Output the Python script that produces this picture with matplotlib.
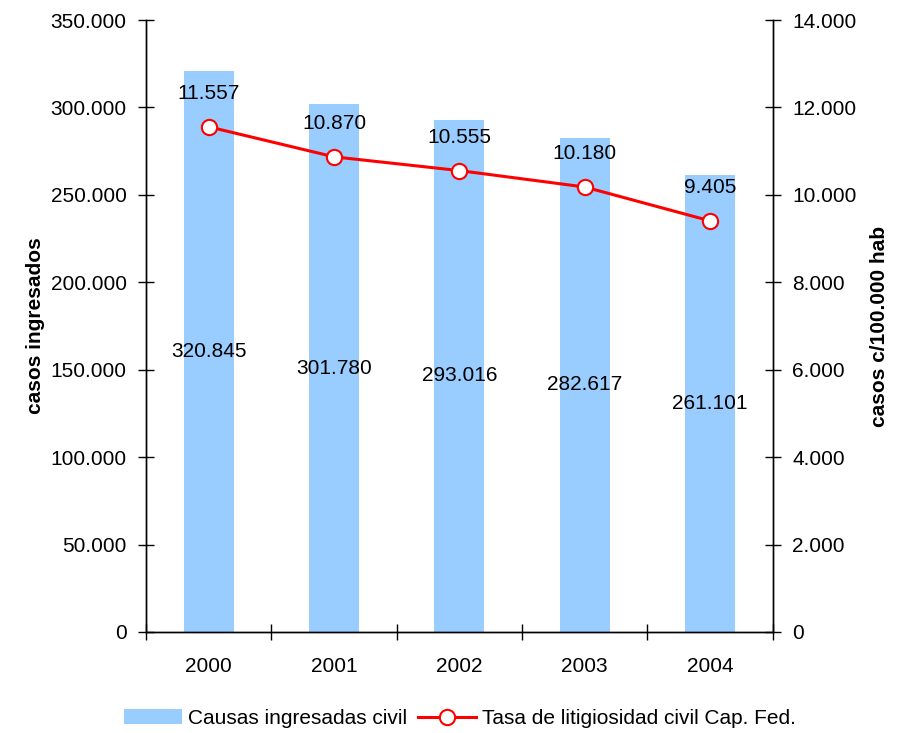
import matplotlib
matplotlib.use("Agg")
import matplotlib.pyplot as plt
from matplotlib.ticker import FuncFormatter, MultipleLocator

plt.rcParams['font.family'] = ['Liberation Sans', 'DejaVu Sans']

years = ["2000", "2001", "2002", "2003", "2004"]
causas = [320845, 301780, 293016, 282617, 261101]
tasa = [11557, 10870, 10555, 10180, 9405]

def fmt(v):
    return f"{int(round(v)):,}".replace(",", ".")

FS = 15
fig = plt.figure(figsize=(9.07, 7.33), dpi=100)
ax = fig.add_axes([0.161, 0.1378, 0.691, 0.8349])
ax2 = ax.twinx()

x = list(range(len(years)))
bars = ax.bar(x, causas, width=0.4, color="#99CCFF", zorder=1, label="Causas ingresadas civil")
ax.set_xlim(-0.5, len(years) - 0.5)
ax.set_ylim(0, 350000)
ax.yaxis.set_major_locator(MultipleLocator(50000))
ax.yaxis.set_major_formatter(FuncFormatter(lambda v, p: fmt(v)))
ax.set_xticks([i - 0.5 for i in range(len(years) + 1)])
ax.set_xticklabels([])
ax.set_xticks(x, minor=True)
ax.set_xticklabels(years, minor=True)
ax.tick_params(axis='x', which='minor', length=0, pad=18, labelsize=FS)
ax.tick_params(axis='x', which='major', direction='inout', length=12, width=1)
ax.tick_params(axis='y', direction='inout', length=12, width=1, labelsize=FS, pad=8)

for i, v in enumerate(causas):
    ax.text(i, v / 2, fmt(v), ha='center', va='center', fontsize=FS)

line, = ax2.plot(x, tasa, color="red", lw=2.2, marker='o', markersize=11,
                 markerfacecolor='white', markeredgecolor='red', markeredgewidth=1.5,
                 label="Tasa de litigiosidad civil Cap. Fed.", zorder=3)
ax2.set_ylim(0, 14000)
ax2.yaxis.set_major_locator(MultipleLocator(2000))
ax2.yaxis.set_major_formatter(FuncFormatter(lambda v, p: fmt(v)))
ax2.tick_params(axis='y', direction='inout', length=12, width=1, labelsize=FS, pad=8)
for i, v in enumerate(tasa):
    ax2.annotate(fmt(v), (i, v), xytext=(0, 24), textcoords='offset points',
                 ha='center', va='center', fontsize=FS)

for a in (ax, ax2):
    a.spines['top'].set_visible(False)
    for s in ('left', 'right', 'bottom'):
        a.spines[s].set_color('black')
        a.spines[s].set_linewidth(1)

ax.set_ylabel("casos ingresados", fontsize=FS, fontweight='bold', labelpad=4)
ax2.set_ylabel("casos c/100.000 hab", fontsize=FS, fontweight='bold', labelpad=10)

fig.legend(handles=[bars, line], loc='center', bbox_to_anchor=(0.507, 0.02),
           ncol=2, frameon=False, fontsize=FS, handlelength=2.8, columnspacing=0.5,
           handletextpad=0.3)

fig.savefig("out.png", dpi=100)
